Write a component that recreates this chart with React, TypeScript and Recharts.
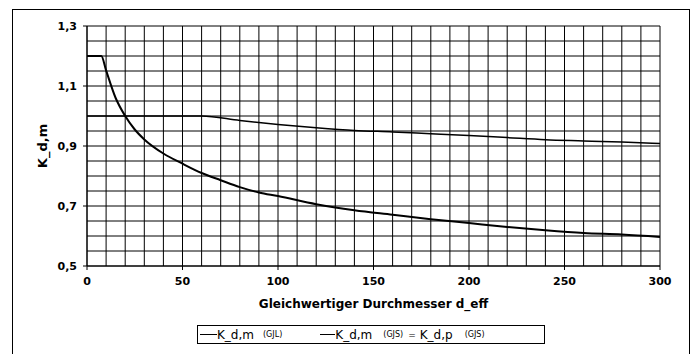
import React from "react";
import {
  LineChart,
  Line,
  XAxis,
  YAxis,
  ReferenceLine,
  Legend,
} from "recharts";

// K_d,m (GJL) - steep curve
const gjlD = [0, 7.5, 10, 15, 20, 25, 30, 40, 50, 60, 70, 80, 90, 100, 120, 140, 160, 180, 200, 220, 240, 260, 280, 300];
const gjlK = [1.2, 1.2, 1.152, 1.06, 1.0, 0.955, 0.922, 0.875, 0.841, 0.81, 0.786, 0.763, 0.745, 0.733, 0.706, 0.686, 0.671, 0.656, 0.643, 0.63, 0.619, 0.61, 0.605, 0.597];

// K_d,m (GJS) = K_d,p (GJS) - flat curve
const gjsD = [0, 60, 80, 100, 120, 140, 160, 180, 200, 220, 240, 260, 280, 300];
const gjsK = [1.0, 1.0, 0.985, 0.972, 0.961, 0.952, 0.947, 0.941, 0.935, 0.928, 0.921, 0.917, 0.913, 0.908];

const xTicks = [0, 50, 100, 150, 200, 250, 300];
const yTicks = [0.5, 0.7, 0.9, 1.1, 1.3];
// grid every 10 mm and every 0,05
const xGrid = Array.from({ length: 31 }, (_, i) => i * 10);
const yGrid = Array.from({ length: 17 }, (_, i) => +(0.5 + i * 0.05).toFixed(2));

const gjlData = gjlD.map((d, i) => ({ d, k: gjlK[i] }));
const gjsData = gjsD.map((d, i) => ({ d, k: gjsK[i] }));

const FONT = "'DejaVu Sans', Verdana, sans-serif";

const small = { fontSize: 8 };

const renderLegend = () => (
  <div
    style={{
      border: "1.5px solid #000",
      height: 19,
      display: "flex",
      alignItems: "center",
      fontFamily: FONT,
      fontSize: 12,
      color: "#000",
      whiteSpace: "nowrap",
      boxSizing: "border-box",
    }}
  >
    <span style={{ display: "inline-block", width: 17, borderTop: "1.5px solid #000", marginLeft: 2 }} />
    <span>K_d,m</span>
    <span style={{ ...small, marginLeft: 9 }}>(GJL)</span>
    <span style={{ display: "inline-block", width: 15, borderTop: "1.5px solid #000", marginLeft: 38 }} />
    <span>K_d,m</span>
    <span style={{ ...small, marginLeft: 11 }}>(GJS)</span>
    <span style={{ fontSize: 9, marginLeft: 5 }}>=</span>
    <span style={{ marginLeft: 4 }}>K_d,p</span>
    <span style={{ ...small, marginLeft: 12 }}>(GJS)</span>
  </div>
);

export default function App() {
  return (
    <div
      style={{
        position: "fixed",
        left: 0,
        top: 0,
        width: 696,
        height: 354,
        overflow: "hidden",
        background: "#fff",
      }}
    >
      <div
        style={{
          position: "absolute",
          left: 12,
          top: 9,
          width: 678,
          height: 400,
          border: "1.5px solid #000",
          boxSizing: "border-box",
        }}
      />
      <div style={{ position: "absolute", left: 0, top: 0 }}>
        <LineChart
          width={696}
          height={354}
          margin={{ top: 26, right: 36, bottom: 44, left: 0 }}
          style={{ fontFamily: FONT }}
        >
          <XAxis
            dataKey="d"
            type="number"
            domain={[0, 300]}
            ticks={xTicks}
            allowDataOverflow
            height={44}
            stroke="#000"
            tickSize={4}
            tickMargin={7}
            tick={{ fill: "#000", fontSize: 11, fontWeight: "bold", fontFamily: FONT }}
            label={{
              value: "Gleichwertiger Durchmesser d_eff",
              position: "insideBottom",
              offset: 2,
              fill: "#000",
              fontSize: 12,
              fontWeight: "bold",
              fontFamily: FONT,
            }}
          />
          <YAxis
            dataKey="k"
            type="number"
            domain={[0.5, 1.3]}
            ticks={yTicks}
            allowDataOverflow
            width={87}
            stroke="#000"
            tickSize={4}
            tickMargin={6}
            tickFormatter={(v: number) => v.toFixed(1).replace(".", ",")}
            tick={{ fill: "#000", fontSize: 11, fontWeight: "bold", fontFamily: FONT }}
            label={{
              value: "K_d,m",
              angle: -90,
              position: "center",
              dx: -1,
              fill: "#000",
              fontSize: 13,
              fontWeight: "bold",
              fontFamily: FONT,
            }}
          />
          {xGrid.map((v) => (
            <ReferenceLine key={`x${v}`} x={v} stroke="#000" strokeWidth={1} />
          ))}
          {yGrid.map((v) => (
            <ReferenceLine key={`y${v}`} y={v} stroke="#000" strokeWidth={1} />
          ))}
          <Legend
            layout="horizontal"
            verticalAlign="middle"
            align="center"
            content={renderLegend}
            wrapperStyle={{ left: 197, top: 325, width: 348, height: 19 }}
          />
          <Line
            data={gjlData}
            dataKey="k"
            name="K_d,m (GJL)"
            type="monotone"
            stroke="#000"
            strokeWidth={2}
            dot={false}
            isAnimationActive={false}
          />
          <Line
            data={gjsData}
            dataKey="k"
            name="K_d,m (GJS) = K_d,p (GJS)"
            type="monotone"
            stroke="#000"
            strokeWidth={1.5}
            dot={false}
            isAnimationActive={false}
          />
        </LineChart>
      </div>
    </div>
  );
}
